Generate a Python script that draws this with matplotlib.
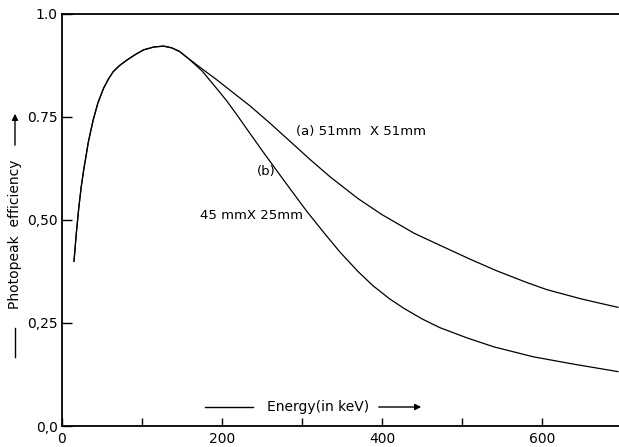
import matplotlib
matplotlib.use("Agg")
import matplotlib.pyplot as plt

# ---- data ----
rise_energy = [15, 18, 21, 24, 27, 33, 39, 45, 52, 58, 64, 72, 81, 92, 102, 115, 127, 137, 147, 158]
rise_eff = [0.40, 0.47, 0.53, 0.58, 0.62, 0.69, 0.743, 0.785, 0.82, 0.842, 0.86, 0.875,
            0.888, 0.902, 0.913, 0.920, 0.922, 0.918, 0.909, 0.892]

a_energy = [175, 193, 210, 235, 260, 285, 310, 335, 370, 400, 440, 472, 510, 543, 580, 606, 650, 695]
a_eff = [0.867, 0.841, 0.815, 0.777, 0.735, 0.691, 0.647, 0.605, 0.552, 0.513, 0.468,
         0.439, 0.405, 0.377, 0.349, 0.331, 0.308, 0.288]

b_energy = [175, 193, 206, 218, 235, 250, 268, 285, 306, 330, 348, 370, 389, 410, 427, 450,
            472, 506, 540, 589, 640, 695]
b_eff = [0.862, 0.820, 0.789, 0.757, 0.710, 0.669, 0.621, 0.576, 0.521, 0.463, 0.421,
         0.375, 0.340, 0.308, 0.286, 0.260, 0.239, 0.214, 0.192, 0.168, 0.150, 0.132]

x_major = [0, 200, 400, 600]
x_minor = [100, 300, 500]
y_ticks = [0.0, 0.25, 0.50, 0.75, 1.0]
y_labels = ["0,0", "0,25", "0,50", "0.75", "1.0"]

W, H = 619, 447
fig = plt.figure(figsize=(W / 100, H / 100), dpi=100)
ax = fig.add_axes([62 / W, 21 / H, 557 / W, 412 / H])

curve_a_x = rise_energy + a_energy
curve_a_y = rise_eff + a_eff
curve_b_x = rise_energy + b_energy
curve_b_y = rise_eff + b_eff
ax.plot(curve_a_x, curve_a_y, color="black", lw=0.9, solid_joinstyle="round")
ax.plot(curve_b_x, curve_b_y, color="black", lw=0.9, solid_joinstyle="round")

ax.set_xlim(0, 696.25)
ax.set_ylim(0, 1.0)
ax.spines["right"].set_visible(False)
for s in ["left", "bottom", "top"]:
    ax.spines[s].set_linewidth(1.3)

ax.set_xticks(x_major)
ax.set_xticklabels([str(v) for v in x_major], fontsize=10)
ax.set_xticks(x_minor, minor=True)
ax.set_yticks(y_ticks)
ax.set_yticklabels(y_labels, fontsize=10)
ax.tick_params(axis="x", which="both", direction="in", length=6, width=1, pad=4)
ax.tick_params(axis="y", which="both", direction="in", length=7, width=1, pad=3)

# annotations
ax.text(293, 0.714, "(a) 51mm  X 51mm", fontsize=9.5, va="center", ha="left")
ax.text(244, 0.617, "(b)", fontsize=9.5, va="center", ha="left")
ax.text(173, 0.512, "45 mmX 25mm", fontsize=9.5, va="center", ha="left")

# x-axis label drawn inside the plot with line and arrow
fx = lambda px: px / W
fy = lambda py: 1 - py / H
fig.add_artist(plt.Line2D([fx(205), fx(253)], [fy(407), fy(407)], color="black", lw=1,
                          transform=fig.transFigure))
fig.text(fx(267), fy(407), "Energy(in keV)", fontsize=10, va="center", ha="left")
ax.annotate("", xy=(fx(424), fy(407)), xytext=(fx(376), fy(407)),
            xycoords="figure fraction", textcoords="figure fraction",
            arrowprops=dict(arrowstyle="-|>", color="black", lw=1, mutation_scale=9))

# y-axis label with line and arrow
fig.add_artist(plt.Line2D([fx(15), fx(15)], [fy(357), fy(328)], color="black", lw=1,
                          transform=fig.transFigure))
fig.text(fx(15), fy(234), "Photopeak  efficiency", fontsize=10, rotation=90,
         va="center", ha="center")
ax.annotate("", xy=(fx(15), fy(111)), xytext=(fx(15), fy(148)),
            xycoords="figure fraction", textcoords="figure fraction",
            arrowprops=dict(arrowstyle="-|>", color="black", lw=1, mutation_scale=9))

fig.savefig("out.png", dpi=100)
